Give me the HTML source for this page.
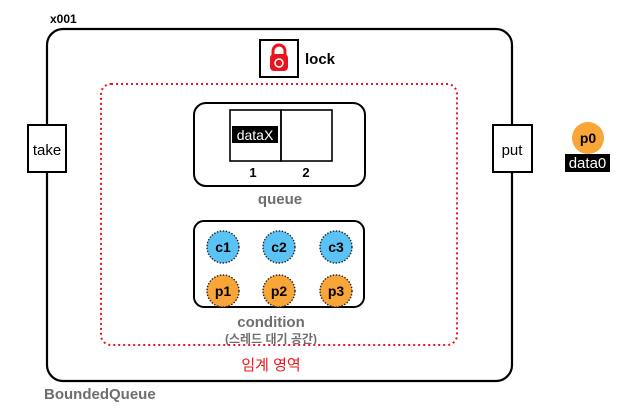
<!DOCTYPE html>
<html><head><meta charset="utf-8"><style>
body{margin:0;background:#fff;width:619px;height:409px;overflow:hidden}
text{font-family:"Liberation Sans","Noto Sans CJK KR",sans-serif}
</style></head><body>
<svg width="619" height="409" viewBox="0 0 619 409" xmlns="http://www.w3.org/2000/svg">
<text x="50" y="23" font-size="12" font-weight="bold" fill="#000">x001</text>
<rect x="47" y="29" width="465" height="352" rx="16" fill="none" stroke="#000" stroke-width="2.2"/>
<rect x="101" y="84" width="356" height="261" rx="10" fill="none" stroke="#f0141e" stroke-width="2" stroke-dasharray="2 3"/>
<rect x="28" y="125" width="38" height="47" fill="#fff" stroke="#000" stroke-width="2"/>
<text x="47" y="155" font-size="15" text-anchor="middle">take</text>
<rect x="493" y="125" width="39" height="47" fill="#fff" stroke="#000" stroke-width="2"/>
<text x="512" y="155" font-size="15" text-anchor="middle">put</text>
<rect x="260" y="40" width="38" height="37" fill="#fff" stroke="#000" stroke-width="2"/>
<path d="M273 55 v-4 a6 6 0 0 1 12 0 v4" fill="none" stroke="#e8141e" stroke-width="3"/>
<rect x="270" y="54" width="18" height="17" rx="4" fill="#e8141e"/>
<circle cx="279" cy="63" r="4" fill="none" stroke="#fff" stroke-width="1.5"/>
<text x="305" y="64" font-size="15" font-weight="bold">lock</text>
<rect x="194" y="103" width="171" height="83" rx="12" fill="none" stroke="#000" stroke-width="2"/>
<rect x="230" y="110" width="51" height="51" fill="none" stroke="#000" stroke-width="1.6"/>
<rect x="281" y="110" width="51" height="51" fill="none" stroke="#000" stroke-width="1.6"/>
<rect x="232" y="126" width="46" height="17" fill="#000"/>
<text x="255" y="140" font-size="14" fill="#fff" text-anchor="middle">dataX</text>
<text x="253" y="177" font-size="13" font-weight="bold" text-anchor="middle">1</text>
<text x="306" y="177" font-size="13" font-weight="bold" text-anchor="middle">2</text>
<text x="280" y="204" font-size="15" font-weight="bold" fill="#6e6e6e" text-anchor="middle">queue</text>
<rect x="194" y="221" width="170" height="86" rx="10" fill="none" stroke="#000" stroke-width="2"/>
<g stroke="#222" stroke-width="1.4" stroke-dasharray="1.5 1.5">
<circle cx="223" cy="247" r="16" fill="#5ac3f5"/><circle cx="279" cy="247" r="16" fill="#5ac3f5"/><circle cx="336" cy="247" r="16" fill="#5ac3f5"/>
<circle cx="223" cy="291" r="16" fill="#f7a637"/><circle cx="279" cy="291" r="16" fill="#f7a637"/><circle cx="336" cy="291" r="16" fill="#f7a637"/>
</g>
<g font-size="14" font-weight="bold" text-anchor="middle" fill="#000">
<text x="223" y="252">c1</text><text x="279" y="252">c2</text><text x="336" y="252">c3</text>
<text x="223" y="296">p1</text><text x="279" y="296">p2</text><text x="336" y="296">p3</text>
</g>
<text x="271" y="327" font-size="15" font-weight="bold" fill="#6e6e6e" text-anchor="middle">condition</text>
<text x="271" y="343" font-size="12" font-weight="bold" fill="#6e6e6e" text-anchor="middle">(스레드 대기 공간)</text>
<text x="271" y="370" font-size="15" fill="#f0141e" text-anchor="middle">임계 영역</text>
<text x="44" y="399" font-size="15" font-weight="bold" fill="#6e6e6e">BoundedQueue</text>
<circle cx="588" cy="138" r="16" fill="#f7a637"/>
<text x="588" y="143" font-size="14" font-weight="bold" text-anchor="middle">p0</text>
<rect x="565" y="154" width="45" height="18" fill="#000"/>
<text x="587.5" y="168" font-size="15" fill="#fff" text-anchor="middle">data0</text>
</svg>
</body></html>
